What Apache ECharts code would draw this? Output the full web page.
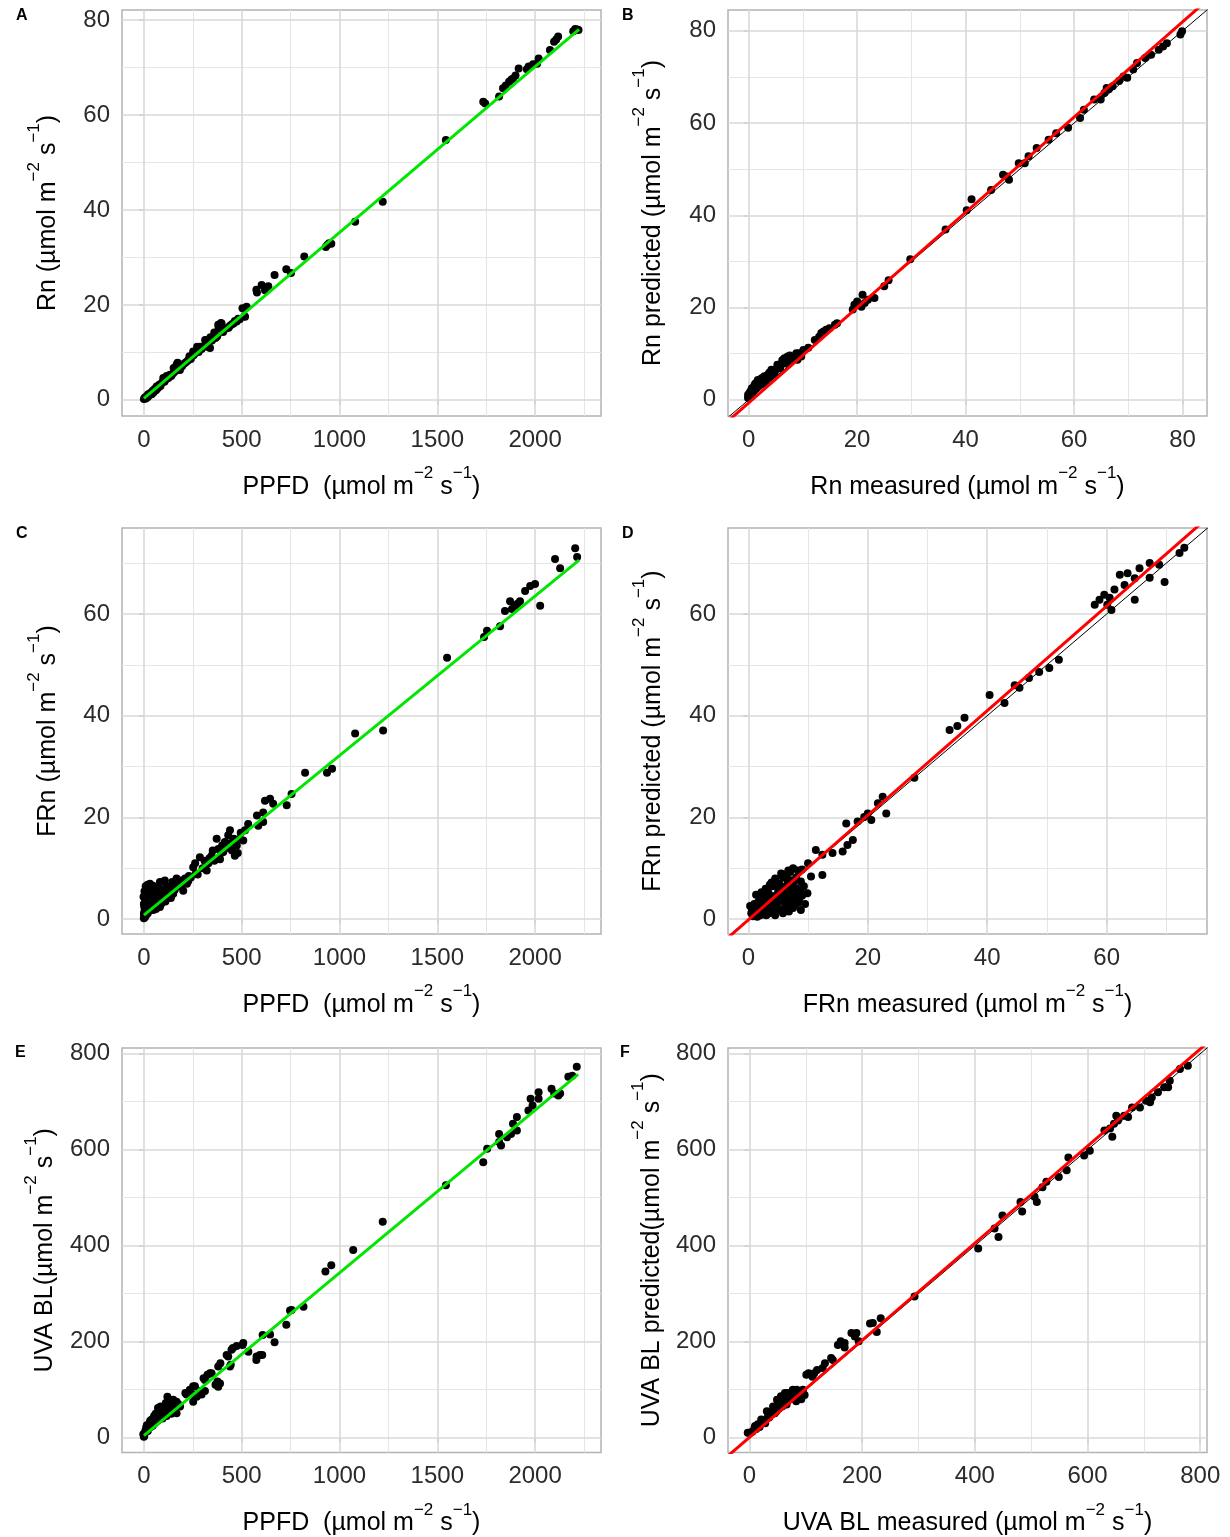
<!DOCTYPE html>
<html>
<head>
<meta charset="utf-8">
<script src="https://cdn.jsdelivr.net/npm/echarts@6/dist/echarts.min.js"></script>
<style>html,body{margin:0;padding:0;background:#fff}#c{width:1230px;height:1537px}</style>
</head>
<body>
<div id="c"></div>
<script>
// ---------- tick values ----------
const ticksPPFD = [0, 500, 1000, 1500, 2000];
const minorPPFD = [250, 750, 1250, 1750, 2250];
const ticksRn = [0, 20, 40, 60, 80];
const minorRn = [10, 30, 50, 70];
const ticksFRn = [0, 20, 40, 60];
const minorFRn = [10, 30, 50, 70];
const ticksUVA = [0, 200, 400, 600, 800];
const minorUVA = [100, 300, 500, 700];

// ---------- data: A  Rn vs PPFD ----------
const ptsA = [[0,0.2],[5,0.5],[10,0.3],[15,0.8],[20,0.6],[22,1.2],[28,1.0],[35,1.5],[40,1.2],[45,1.9],[50,1.6],[55,2.3],[62,2.0],[65,2.8],[72,2.5],[78,3.2],[85,2.9],[92,3.6],[99,4.6],[105,3.8],[112,4.3],[116,5.0],[125,4.6],[133,5.3],[140,5.0],[152,6.7],[150,5.6],[160,6.0],[167,7.4],[172,7.8],[178,6.6],[184,6.3],[195,7.1],[205,7.6],[215,7.9],[225,8.3],[233,9.2],[240,8.6],[252,10.2],[254,9.4],[262,9.8],[272,11.2],[280,10.1],[287,11.2],[295,10.7],[305,11.3],[313,12.6],[322,11.2],[321,12.6],[330,11.8],[338,10.9],[340,13.2],[348,12.5],[360,14.2],[366,13.0],[375,13.4],[380,15.8],[382,15.2],[389,15.1],[394,16.2],[397,16.1],[405,14.3],[413,14.9],[423,15.1],[433,15.2],[440,15.6],[450,15.9],[458,16.1],[465,16.6],[474,16.5],[482,17.1],[490,17.0],[504,19.3],[514,17.6],[517,17.5],[525,19.6],[575,23.2],[578,22.6],[602,24.2],[619,23.1],[636,23.9],[668,26.3],[728,27.5],[752,26.7],[820,30.2],[930,32.2],[938,32.6],[947,33.0],[958,32.9],[1080,37.5],[1221,41.7],[1544,54.7],[1735,62.8],[1745,62.4],[1816,63.9],[1836,65.6],[1850,66.2],[1867,67.0],[1878,67.4],[1887,67.7],[1900,68.3],[1916,69.8],[1958,69.6],[1967,70.2],[1990,70.7],[2010,70.8],[2018,71.9],[2076,73.7],[2097,75.4],[2108,75.9],[2118,76.5],[2195,77.6],[2205,78.1],[2215,78.0],[2222,77.9]];
const fitA = [[0,0.3],[2225,78.0]];

// ---------- data: B  Rn predicted vs measured ----------
const ptsB = [[-0.1,0.4],[-0.1,1.1],[0.0,0.7],[0.2,1.6],[0.4,1.0],[0.5,2.2],[0.6,2.5],[0.8,1.4],[1.0,2.8],[1.1,3.3],[1.3,3.6],[1.3,2.4],[1.6,3.8],[1.7,4.3],[1.8,3.0],[2.0,3.2],[2.3,4.0],[2.4,4.7],[2.6,3.5],[2.7,4.4],[2.9,5.1],[3.0,3.8],[3.2,4.2],[3.5,5.4],[3.8,5.9],[3.9,4.9],[4.2,6.5],[4.2,5.2],[4.5,6.1],[4.8,5.6],[5.0,6.6],[5.3,7.6],[5.4,7.2],[5.8,6.8],[6.0,7.6],[6.2,8.6],[6.4,8.3],[6.6,9.0],[6.9,7.9],[7.2,8.3],[7.2,9.4],[7.6,9.6],[7.8,8.9],[8.3,9.2],[8.8,10.1],[9.0,8.7],[9.3,10.1],[9.7,9.4],[10.1,10.8],[11.0,11.3],[12.2,13.0],[13.0,13.7],[13.4,14.5],[13.8,14.8],[14.3,15.2],[14.9,15.5],[15.9,16.3],[16.3,16.6],[19.2,19.6],[19.5,20.6],[20.0,21.3],[20.8,20.2],[21.0,22.8],[21.4,21.0],[22.0,21.7],[23.2,22.1],[25.0,24.6],[25.8,25.9],[29.8,30.5],[36.3,36.9],[40.2,41.1],[41.1,43.5],[44.7,45.5],[46.9,48.8],[47.6,48.4],[48.0,47.7],[49.8,51.3],[50.9,51.3],[51.6,52.8],[53.1,54.6],[55.3,56.4],[56.7,57.8],[58.9,59.0],[61.1,61.1],[61.8,62.9],[63.7,65.1],[64.9,65.1],[65.6,66.5],[66.0,67.6],[66.4,67.3],[67.1,68.0],[68.3,69.1],[69.1,70.1],[69.8,69.8],[70.9,71.6],[71.6,73.0],[73.1,74.1],[74.2,74.8],[75.6,75.9],[76.4,76.6],[77.1,77.3],[79.6,79.2],[79.9,79.9]];
const fitB = [[-4,-4.8],[85,87.1]];

// ---------- data: C  FRn vs PPFD ----------
const ptsC = [[0,0.2],[0,1.1],[2,2.4],[0,3.0],[-2,4.4],[3,5.5],[5,0.4],[8,1.5],[10,3.5],[12,5.0],[14,6.2],[15,2.2],[18,4.0],[20,1.2],[22,6.3],[25,3.0],[28,5.0],[31,7.0],[31,3.0],[35,1.8],[38,4.3],[42,5.5],[45,2.5],[48,6.0],[48,1.8],[55,3.5],[58,5.0],[65,3.7],[70,2.8],[75,6.2],[82,7.3],[82,2.4],[90,4.0],[99,4.4],[107,7.6],[110,3.5],[120,5.0],[133,4.7],[140,6.5],[150,6.3],[150,5.0],[1,0.5],[3,1.5],[4,2.8],[6,4.0],[7,5.2],[9,6.5],[11,0.8],[13,2.0],[16,3.2],[17,5.8],[19,6.8],[21,4.6],[24,2.0],[26,6.0],[27,4.0],[30,5.5],[33,2.5],[36,6.2],[40,3.2],[43,4.8],[46,6.6],[50,4.0],[52,2.2],[57,6.2],[60,4.5],[62,2.0],[68,5.0],[72,3.5],[78,4.8],[85,5.5],[88,3.0],[95,5.8],[103,4.2],[115,6.5],[127,5.8],[138,4.2],[145,7.3],[158,5.8],[165,7.0],[167,8.0],[175,6.5],[184,7.6],[192,7.0],[201,5.6],[210,8.0],[220,7.0],[227,7.5],[230,8.5],[240,8.2],[252,10.2],[262,11.0],[265,9.0],[275,8.8],[286,12.2],[300,10.0],[310,11.5],[321,9.6],[330,11.0],[335,12.0],[346,12.5],[352,13.5],[360,11.5],[372,15.8],[380,13.8],[389,11.8],[395,13.0],[400,14.5],[406,13.2],[414,15.2],[420,14.0],[431,16.5],[440,17.5],[445,15.0],[450,13.5],[460,15.8],[465,12.5],[475,14.5],[480,13.0],[491,15.8],[495,17.0],[508,15.5],[517,17.5],[533,18.7],[578,20.4],[585,18.4],[610,21.0],[610,19.1],[619,23.3],[645,23.7],[661,22.7],[730,22.4],[755,24.6],[824,28.8],[936,28.8],[962,29.6],[1080,36.5],[1223,37.1],[1550,51.4],[1739,55.5],[1754,56.7],[1821,57.6],[1846,60.6],[1872,62.5],[1882,61.0],[1898,61.6],[1910,62.0],[1923,62.5],[1949,64.5],[1975,65.5],[2000,65.9],[2026,61.6],[2102,70.8],[2128,69.0],[2205,72.9],[2215,71.2]];
const fitC = [[0,0.8],[2225,70.6]];

// ---------- data: D  FRn predicted vs measured ----------
const ptsD = [[0.3,2.6],[0.6,1.6],[1.1,2.2],[1.7,3.5],[2.2,2.2],[2.8,4.1],[3.4,3.1],[3.4,5.1],[3.9,2.2],[4.5,3.8],[5.0,5.8],[5.6,5.1],[5.6,1.9],[6.1,6.4],[6.4,8.0],[6.9,7.7],[7.2,4.5],[7.5,3.3],[7.5,10.0],[8.1,6.1],[8.3,9.6],[8.8,7.4],[0.5,1.2],[1.0,3.0],[1.5,1.5],[1.9,4.5],[2.5,3.0],[2.7,1.2],[3.0,5.6],[3.2,2.0],[3.7,4.2],[4.0,6.5],[4.2,1.5],[4.8,3.0],[5.2,7.0],[5.3,4.4],[5.9,3.5],[6.0,8.8],[6.2,2.5],[6.6,5.5],[7.0,9.3],[7.3,6.8],[7.8,2.8],[8.0,8.2],[8.5,4.0],[9.0,9.8],[9.3,6.5],[10.0,11.0],[9.5,3.0],[8.8,1.8],[2.0,0.8],[1.3,4.8],[3.6,6.8],[4.5,8.0],[5.5,9.0],[1.5,0.5],[3.0,0.8],[4.5,0.8],[5.8,1.2],[6.8,1.5],[7.5,2.2],[6.5,3.8],[5.0,2.0],[7.8,4.8],[8.4,3.3],[8.7,5.6],[0.8,0.6],[1.2,1.0],[2.4,1.6],[3.5,1.2],[4.0,2.6],[4.8,4.8],[5.4,6.2],[6.2,4.6],[7.0,3.0],[7.0,5.8],[6.6,7.0],[7.7,7.5],[8.2,5.2],[9.0,4.6],[2.2,5.3],[2.9,6.0],[3.9,7.2],[4.6,7.0],[5.8,8.2],[6.7,9.6],[1.6,2.6],[2.6,2.4],[3.6,3.6],[4.3,4.5],[6.0,5.3],[8.0,3.7],[9.9,5.1],[10.5,8.4],[11.3,13.6],[12.4,8.7],[12.4,12.7],[14.1,13.0],[15.8,13.3],[16.4,18.8],[16.6,14.6],[17.5,15.6],[18.3,19.2],[19.4,20.1],[20.0,20.8],[20.6,19.5],[21.7,22.8],[22.5,24.1],[23.1,20.8],[27.8,27.8],[33.7,37.2],[35.0,38.0],[36.2,39.6],[40.4,44.1],[42.9,42.5],[44.6,46.0],[45.4,45.5],[47.0,47.4],[48.7,48.6],[50.4,49.4],[52.0,51.0],[58.0,61.8],[58.8,62.8],[59.6,63.8],[60.1,61.8],[60.5,63.2],[60.8,60.8],[61.3,64.8],[62.2,67.7],[63.0,65.7],[63.5,68.0],[64.7,67.0],[64.7,62.8],[65.5,69.0],[67.2,70.0],[67.2,67.1],[68.8,69.7],[69.7,66.3],[72.2,72.0],[73.0,73.0]];
const fitD = [[-4,-4.24],[78,80.05]];

// ---------- data: E  UVA BL vs PPFD ----------
const ptsE = [[-3,7],[0,2],[2,4],[5,10],[8,15],[12,21],[15,26],[20,14],[22,21],[25,28],[31,31],[32,35],[35,22],[40,38],[45,25],[48,34],[52,45],[55,30],[60,50],[65,41],[70,35],[72,62],[75,45],[82,48],[85,65],[92,58],[95,40],[99,55],[105,48],[108,60],[112,72],[116,45],[120,85],[125,60],[130,70],[133,62],[138,55],[140,50],[150,55],[150,79],[160,65],[167,75],[167,51],[175,70],[185,65],[212,93],[218,90],[235,100],[252,75],[252,107],[256,90],[261,107],[270,85],[285,97],[295,90],[305,124],[312,97],[312,120],[325,131],[338,134],[346,134],[366,110],[376,117],[380,106],[389,113],[380,148],[391,155],[423,172],[431,169],[440,148],[444,152],[448,183],[455,187],[474,191],[504,193],[508,197],[534,179],[575,162],[576,169],[593,172],[605,172],[607,214],[645,215],[668,199],[728,235],[747,265],[755,266],[816,273],[928,346],[958,359],[1070,391],[1221,450],[1544,526],[1735,574],[1755,602],[1816,616],[1816,633],[1826,609],[1856,626],[1877,633],[1887,654],[1907,640],[1907,668],[1966,682],[1977,706],[1987,692],[2018,706],[2018,720],[2084,727],[2098,717],[2119,713],[2128,717],[2170,752],[2190,754],[2213,773]];
const fitE = [[0,4],[2220,757]];

// ---------- data: F  UVA BL predicted vs measured ----------
const ptsF = [[-3,10],[-0.5,10],[5,12],[9,20],[10,24],[12,18],[15,28],[18,22],[21,31],[21,38],[25,35],[28,30],[31,55],[33,45],[35,42],[38,48],[39,52],[42,65],[44,58],[45,51],[48,55],[49,79],[50,65],[52,60],[55,72],[56,86],[56,79],[58,65],[60,82],[62,69],[63,93],[65,76],[66,69],[68,93],[70,88],[72,80],[75,92],[77,96],[77,100],[80,85],[83,76],[84,100],[85,90],[87,83],[90,95],[92,80],[95,100],[98,89],[101,131],[105,134],[112,127],[115,134],[120,141],[130,145],[134,155],[145,166],[148,162],[157,193],[162,201],[169,197],[169,188],[181,218],[187,211],[190,218],[194,201],[214,238],[219,239],[226,220],[233,249],[293,294],[406,394],[435,436],[442,418],[449,463],[481,491],[484,471],[506,502],[510,491],[520,522],[527,533],[549,543],[563,557],[566,584],[594,588],[604,598],[630,640],[640,644],[644,627],[647,654],[651,671],[654,661],[665,671],[672,668],[679,688],[693,688],[704,702],[711,699],[714,709],[725,720],[736,730],[743,730],[746,744],[764,768],[778,775]];
const fitF = [[-40,-40],[815,825]];

const oneToOne = [[-100,-100],[1000,1000]];

// ---------- styling / layout ----------
const FF = "'Liberation Sans', Arial, sans-serif";
const GREEN = '#00e600', RED = '#ff0000';
function title(pre) {
  return '{n|' + pre + '(µmol m}{s|\u22122}{n| s}{s|\u22121}{n|)}';
}
const rich = {
  n: {fontSize: 25, lineHeight: 44, fontFamily: FF, color: '#000'},
  s: {fontSize: 17, lineHeight: 17, verticalAlign: 'top', fontFamily: FF, color: '#000'}
};

const panels = [
  {key:'A', left:122, top:10,   xr:[-112,2337], yr:[-3.4,82.1], xt:ticksPPFD, xm:minorPPFD, yt:ticksRn,  ym:minorRn,  pts:ptsA, fit:fitA, col:GREEN, one:false, xn:title('PPFD  '), yn:title('Rn '), yGap:52, lx:16, ly:8},
  {key:'B', left:728, top:10,   xr:[-3.8,84.5], yr:[-3.5,84.5], xt:ticksRn,   xm:minorRn,   yt:ticksRn,  ym:minorRn,  pts:ptsB, fit:fitB, col:RED,   one:true,  xn:title('Rn measured '), yn:title('Rn predicted '), yGap:53, lx:622, ly:8},
  {key:'C', left:122, top:528,  xr:[-112,2337], yr:[-2.9,76.9], xt:ticksPPFD, xm:minorPPFD, yt:ticksFRn, ym:minorFRn, pts:ptsC, fit:fitC, col:GREEN, one:false, xn:title('PPFD  '), yn:title('FRn '), yGap:52, lx:16, ly:526},
  {key:'D', left:728, top:528,  xr:[-3.4,76.8], yr:[-2.9,76.9], xt:ticksFRn,  xm:minorFRn,  yt:ticksFRn, ym:minorFRn, pts:ptsD, fit:fitD, col:RED,   one:true,  xn:title('FRn measured '), yn:title('FRn predicted '), yGap:53, lx:622, ly:526},
  {key:'E', left:122, top:1048, xr:[-112,2337], yr:[-31,812],   xt:ticksPPFD, xm:minorPPFD, yt:ticksUVA, ym:minorUVA, pts:ptsE, fit:fitE, col:GREEN, one:false, xn:title('PPFD  '), yn:title('UVA BL'), yGap:55, lx:15, ly:1045},
  {key:'F', left:728, top:1048, xr:[-38,812],   yr:[-31,812],   xt:ticksUVA,  xm:minorUVA,  yt:ticksUVA, ym:minorUVA, pts:ptsF, fit:fitF, col:RED,   one:true,  xn:title('UVA BL measured '), yn:title('UVA BL predicted'), yGap:54, lx:620, ly:1045}
];

const W = 479, H = 406;
const majorStyle = {color: '#d9d9d9', width: 1.6, type: 'solid'};
const minorStyle = {color: '#e6e6e6', width: 1.1, type: 'solid'};

const grid = [], xAxis = [], yAxis = [], series = [], graphic = [];
panels.forEach((p, i) => {
  grid.push({left: p.left, top: p.top, width: W, height: H, show: true,
    borderColor: '#b3b3b3', borderWidth: 1.5, backgroundColor: 'transparent', containLabel: false});
  const axisCommon = {
    type: 'value', gridIndex: i, scale: true,
    axisLine: {show: false}, splitLine: {show: false},
    axisTick: {show: true, length: 5, lineStyle: {color: '#b3b3b3', width: 1.5}},
    axisLabel: {fontFamily: FF, fontSize: 24, color: '#2b2b2b', margin: 12, formatter: v => String(v)},
    nameLocation: 'middle', nameTextStyle: {rich: rich}
  };
  xAxis.push(Object.assign({}, axisCommon, {
    min: p.xr[0], max: p.xr[1], name: p.xn, nameGap: 49,
    axisTick: Object.assign({}, axisCommon.axisTick, {customValues: p.xt}),
    axisLabel: Object.assign({}, axisCommon.axisLabel, {customValues: p.xt})
  }));
  yAxis.push(Object.assign({}, axisCommon, {
    min: p.yr[0], max: p.yr[1], name: p.yn, nameGap: p.yGap, nameRotate: 90,
    axisTick: Object.assign({}, axisCommon.axisTick, {customValues: p.yt}),
    axisLabel: Object.assign({}, axisCommon.axisLabel, {customValues: p.yt})
  }));
  const ml = [];
  p.xm.forEach(v => ml.push({xAxis: v, lineStyle: minorStyle}));
  p.ym.forEach(v => ml.push({yAxis: v, lineStyle: minorStyle}));
  p.xt.forEach(v => ml.push({xAxis: v, lineStyle: majorStyle}));
  p.yt.forEach(v => ml.push({yAxis: v, lineStyle: majorStyle}));
  series.push({type: 'line', xAxisIndex: i, yAxisIndex: i, data: [], silent: true, z: 1,
    markLine: {silent: true, z: 1, symbol: ['none', 'none'], label: {show: false}, animation: false, data: ml}});
  series.push({type: 'scatter', xAxisIndex: i, yAxisIndex: i, data: p.pts, symbolSize: 8,
    itemStyle: {color: '#000', opacity: 1}, z: 3, silent: true});
  if (p.one) {
    series.push({type: 'line', xAxisIndex: i, yAxisIndex: i, data: oneToOne, showSymbol: false, symbol: 'none',
      lineStyle: {color: '#000', width: 1}, z: 4, silent: true, clip: true});
  }
  series.push({type: 'line', xAxisIndex: i, yAxisIndex: i, data: p.fit, showSymbol: false, symbol: 'none',
    lineStyle: {color: p.col, width: 3}, z: 5, silent: true, clip: true});
  graphic.push({type: 'text', left: p.lx, top: p.ly, silent: true,
    style: {text: p.key, font: 'bold 16px ' + FF, fill: '#000'}});
});

const chart = echarts.init(document.getElementById('c'), null, {renderer: 'canvas'});
chart.setOption({animation: false, backgroundColor: '#fff', grid, xAxis, yAxis, series, graphic});
</script>
</body>
</html>
